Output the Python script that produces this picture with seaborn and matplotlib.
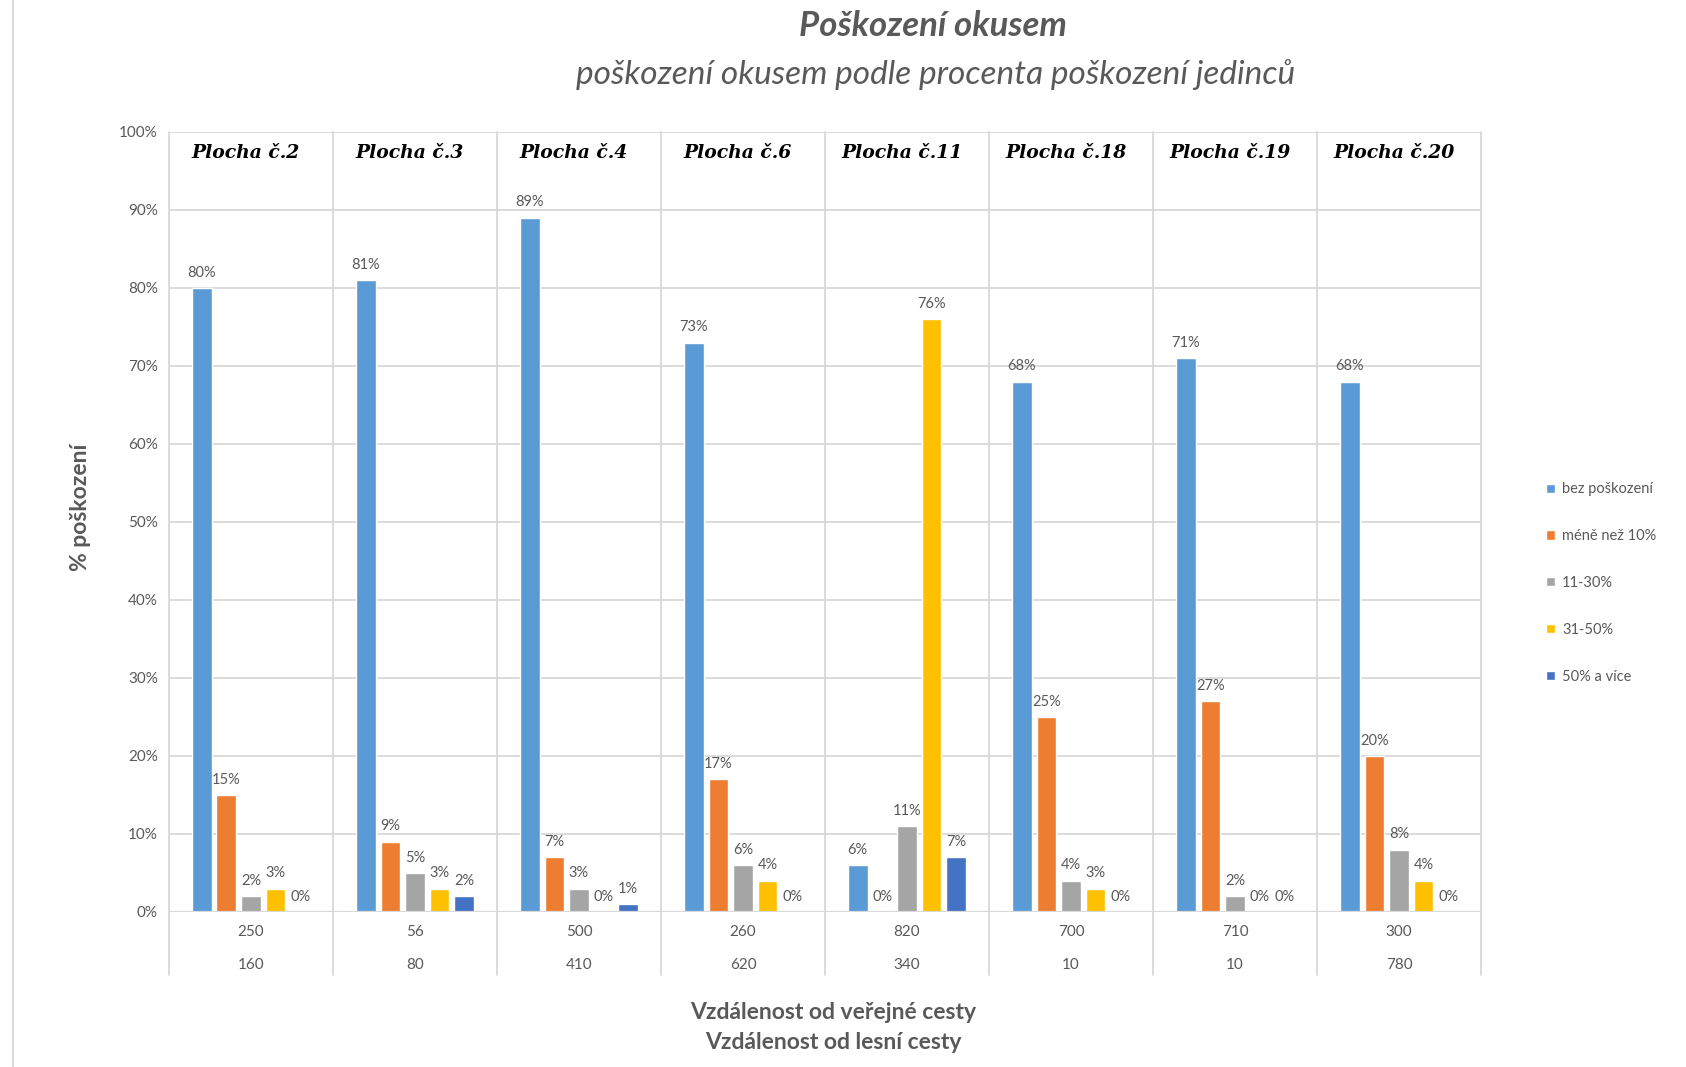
import matplotlib
matplotlib.use("Agg")
import matplotlib.pyplot as plt
from matplotlib.lines import Line2D
import matplotlib.transforms as mtransforms
import seaborn as sns
import pandas as pd

# Data
plots = ["Plocha č.2", "Plocha č.3", "Plocha č.4", "Plocha č.6",
         "Plocha č.11", "Plocha č.18", "Plocha č.19", "Plocha č.20"]
dist_public = ["250", "56", "500", "260", "820", "700", "710", "300"]
dist_forest = ["160", "80", "410", "620", "340", "10", "10", "780"]
categories = ["bez poškození", "méně než 10%", "11-30%", "31-50%", "50% a více"]
bez_poskozeni = [80, 81, 89, 73, 6, 68, 71, 68]
mene_nez_10 = [15, 9, 7, 17, 0, 25, 27, 20]
cat_11_30 = [2, 5, 3, 6, 11, 4, 2, 8]
cat_31_50 = [3, 3, 0, 4, 76, 3, 0, 4]
cat_50_vice = [0, 2, 1, 0, 7, 0, 0, 0]
colors = ["#5B9BD5", "#ED7D31", "#A5A5A5", "#FFC000", "#4472C4"]

series = [bez_poskozeni, mene_nez_10, cat_11_30, cat_31_50, cat_50_vice]
rows = []
for cat, vals in zip(categories, series):
    for p, v in zip(plots, vals):
        rows.append({"plocha": p, "kategorie": cat, "hodnota": v})
df = pd.DataFrame(rows)

sns.set_theme(style="white")
plt.rcParams["font.family"] = ["Lato", "DejaVu Sans"]
TXT = "#595959"
GRID = "#D9D9D9"

fig = plt.figure(figsize=(16.86, 10.67), dpi=100)
ax = fig.add_axes([0.1002, 0.1453, 0.7782, 0.7310])

sns.barplot(data=df, x="plocha", y="hodnota", hue="kategorie",
            order=plots, hue_order=categories, palette=colors,
            width=0.75, gap=0.2, ax=ax, legend=True, saturation=1)

ax.set_ylim(0, 100)
ax.set_xlim(-0.5, len(plots) - 0.5)
ax.set_yticks(range(0, 101, 10))
ax.set_yticklabels([f"{v}%" for v in range(0, 101, 10)], color=TXT, fontsize=11)
ax.tick_params(axis="y", length=0, pad=8)
ax.set_xticks([])
ax.set_xlabel("")
ax.set_ylabel("")
for s in ax.spines.values():
    s.set_visible(False)

# horizontal gridlines
for v in range(10, 101, 10):
    ax.axhline(v, color=GRID, lw=1.3, zorder=0)
ax.axhline(0, color=GRID, lw=1.6, zorder=3)

# group separators extending into the category table
trans = mtransforms.blended_transform_factory(ax.transData, ax.transAxes)
for i in range(len(plots) + 1):
    ax.plot([i - 0.5, i - 0.5], [1, -0.081], transform=trans, color=GRID,
            lw=1.3, clip_on=False, zorder=0)

# two-level category labels
for i, (a, b) in enumerate(zip(dist_public, dist_forest)):
    ax.text(i, -0.026, a, transform=trans, ha="center", va="center",
            fontsize=11, color=TXT)
    ax.text(i, -0.068, b, transform=trans, ha="center", va="center",
            fontsize=11, color=TXT)

# group titles
for i, p in enumerate(plots):
    ax.text(i - 0.03, 97.3, p, ha="center", va="center", fontsize=13.5,
            fontweight="bold", fontstyle="italic", family="DejaVu Serif",
            color="black")

# value labels
for cont in ax.containers:
    ax.bar_label(cont, labels=[f"{v:.0f}%" for v in cont.datavalues],
                 padding=6, fontsize=10.5, color=TXT)

# legend
handles, labels = ax.get_legend_handles_labels()
ax.legend_.remove()
fig.legend(handles, labels, loc="center left", bbox_to_anchor=(0.917, 0.4536),
           frameon=False, fontsize=10.5, labelcolor=TXT, handlelength=0.6,
           handleheight=0.6, handletextpad=0.5, labelspacing=2.25,
           borderpad=0, borderaxespad=0)

# titles and axis labels
fig.text(0.5536, 0.976, "Poškození okusem", ha="center", va="center",
         fontsize=25, fontweight="bold", fontstyle="italic", color=TXT)
fig.text(0.555, 0.930, "poškození okusem podle procenta poškození jedinců",
         ha="center", va="center", fontsize=24, fontstyle="italic", color=TXT)
fig.text(0.0475, 0.525, "% poškození", rotation=90, ha="center", va="center",
         fontsize=16.5, fontweight="bold", color=TXT)
fig.text(0.494, 0.051, "Vzdálenost od veřejné cesty", ha="center", va="center",
         fontsize=16.5, fontweight="bold", color=TXT)
fig.text(0.494, 0.023, "Vzdálenost od lesní cesty", ha="center", va="center",
         fontsize=16.5, fontweight="bold", color=TXT)

# page border line on the left
fig.add_artist(Line2D([0.0077, 0.0077], [0, 1], transform=fig.transFigure,
                      color=GRID, lw=1.5))

fig.savefig("out.png", dpi=100, facecolor="white")
